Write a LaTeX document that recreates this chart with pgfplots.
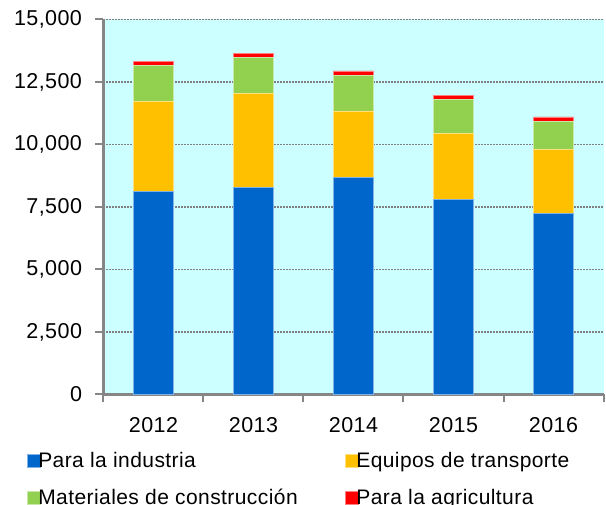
\documentclass[border=0pt]{standalone}
\usepackage{fontspec}
\setmainfont{Liberation Sans}
\newfontfamily\legfont[LetterSpace=2]{Liberation Sans}
\usepackage{pgfplots}
\pgfplotsset{compat=1.18}
\definecolor{cInd}{HTML}{0066CC}
\definecolor{cTra}{HTML}{FFC000}
\definecolor{cCon}{HTML}{92D050}
\definecolor{cAgr}{HTML}{FF0000}
\definecolor{bg}{HTML}{CCFFFF}
\definecolor{axgray}{HTML}{868686}
\begin{document}
\begin{tikzpicture}
\begin{axis}[
  name=ax,
  scale only axis,
  width=500pt, height=375pt,
  xmin=-0.5, xmax=4.5, ymin=0, ymax=15000,
  ybar stacked, bar width=40pt,
  axis background/.style={fill=bg},
  axis x line=bottom, axis y line=left,
  axis line style={-, draw=axgray, line width=3pt},
  tick align=outside,
  major tick length=8pt,
  tick style={draw=axgray, line width=2pt},
  xtick={-0.5,0.5,1.5,2.5,3.5,4.5},
  xticklabels={},
  extra x ticks={0,1,2,3,4},
  extra x tick labels={2012,2013,2014,2015,2016},
  extra x tick style={major tick length=0pt, tick style={draw=none}},
  ytick={0,2500,5000,7500,10000,12500,15000},
  scaled y ticks=false,
  ymajorgrids,
  grid style={draw=gray, line width=1.3pt, dash pattern=on 1.3pt off 1.7pt},
  ticklabel style={font=\legfont\fontsize{21.5}{26}\selectfont},
  xticklabel style={yshift=-19pt},
  yticklabel style={xshift=-10pt, /pgf/number format/.cd, 1000 sep={,}, assume math mode=true},
  legend columns=2,
  legend style={
    draw=none, fill=none,
    font=\legfont\fontsize{21}{25}\selectfont,
    at={([xshift=-80pt,yshift=-54pt]axis description cs:0,0)},
    anchor=north west,
    row sep=16pt,
    /tikz/every odd column/.append style={column sep=-4pt},
    /tikz/every even column/.append style={column sep=45pt},
    cells={anchor=west},
  },
  legend image code/.code={\fill[#1] (0pt,-6.5pt) rectangle (13pt,6.5pt);},
]
\addplot[fill=cInd, draw=cInd!50!white, line width=0.6pt] coordinates {(0,8110) (1,8270) (2,8690) (3,7790) (4,7230)};
\addplot[fill=cTra, draw=cTra!50!white, line width=0.6pt] coordinates {(0,3620) (1,3780) (2,2650) (3,2660) (4,2580)};
\addplot[fill=cCon, draw=cCon!50!white, line width=0.6pt] coordinates {(0,1420) (1,1420) (2,1410) (3,1360) (4,1120)};
\addplot[fill=cAgr, draw=cAgr!50!white, line width=0.6pt] coordinates {(0,180) (1,180) (2,190) (3,160) (4,170)};
\legend{Para la industria, Equipos de transporte, Materiales de construcción, Para la agricultura}
\end{axis}
\pgfresetboundingbox
\useasboundingbox ([xshift=-103.5pt,yshift=-110.5pt]ax.south west) rectangle ([xshift=2.5pt,yshift=19.5pt]ax.north east);
\end{tikzpicture}
\end{document}
